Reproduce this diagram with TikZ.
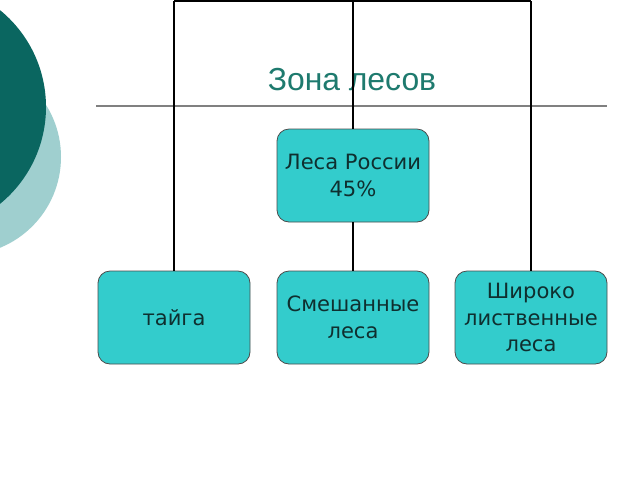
\documentclass[tikz,border=0pt]{standalone}
\usepackage{fontspec}
\setmainfont{DejaVu Sans}
\newfontfamily\titlefont{Liberation Sans}
\definecolor{darkteal}{HTML}{0A6660}
\definecolor{lightteal}{HTML}{9FCFCF}
\definecolor{boxfill}{HTML}{33CCCC}
\definecolor{boxtext}{HTML}{0F2F2F}
\definecolor{titlecol}{HTML}{1E7A6E}
\begin{document}
\begin{tikzpicture}[x=0.75pt,y=-0.75pt,
  box/.style={draw=black!70, line width=0.6pt, fill=boxfill, rounded corners=9pt,
    minimum width=114pt, minimum height=69.75pt, inner sep=1pt, align=center,
    text=boxtext, font=\fontsize{15.8}{20}\selectfont},
  conn/.style={draw=black, line width=1.3pt}]
\useasboundingbox (0,0) rectangle (640,480);
\fill[white] (0,0) rectangle (640,480);
% background circles
\begin{scope}
\clip (0,0) rectangle (640,480);
\fill[lightteal] (-37,157) circle (98);
\fill[darkteal] (-79,107) circle (125);
\end{scope}
% rule under title
\draw[gray, line width=0.8pt] (96,106) -- (607,106);
% title
\node[text=titlecol, font=\titlefont\fontsize{23.9}{28}\selectfont] (title) at (352,80) {Зона лесов};
% boxes
\node[box] (russia) at (353,175.5) {Леса России\\45\%};
\node[box] (taiga) at (174,317.5) {тайга};
\node[box] (mixed) at (353,317.5) {Смешанные\\леса};
\node[box] (broad) at (531,317.5) {Широко\\лиственные\\леса};
% connectors
\coordinate (tl) at (174,1);
\coordinate (tm) at (353,1);
\coordinate (tr) at (531,1);
\draw[conn] (tl) -- (tr);
\draw[conn] (tl) -- (taiga.north);
\draw[conn] (tm) -- (russia.north);
\draw[conn] (russia.south) -- (mixed.north);
\draw[conn] (tr) -- (broad.north);
\end{tikzpicture}
\end{document}
